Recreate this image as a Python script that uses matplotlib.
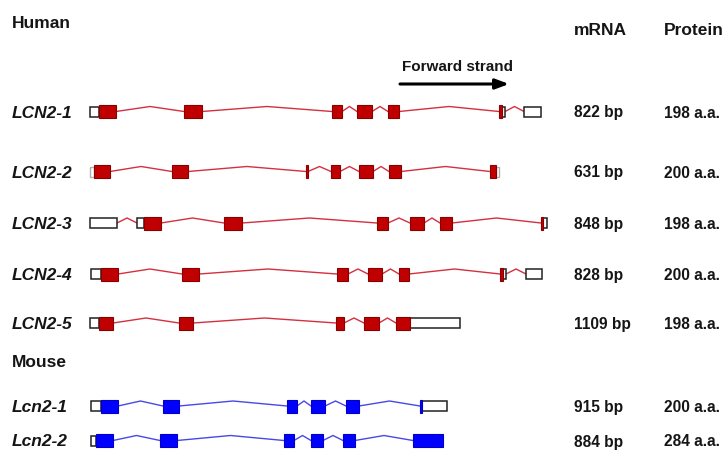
import matplotlib
matplotlib.use("Agg")
import matplotlib.pyplot as plt
from matplotlib.patches import Rectangle

plt.rcParams['font.family'] = ['Liberation Sans', 'DejaVu Sans']

# Transcript models: (start, end, kind) in drawing units along the locus.
# kind: 'c' coding exon, 'u' untranslated region, 'g' faint untranslated region
human_names = ["LCN2-1", "LCN2-2", "LCN2-3", "LCN2-4", "LCN2-5"]
mouse_names = ["Lcn2-1", "Lcn2-2"]

human_1 = [(90, 99, 'u'), (99, 116, 'c'), (184, 202, 'c'), (332, 342, 'c'), (357, 372, 'c'),
           (388, 399, 'c'), (499, 502, 'c'), (502, 505, 'u'), (524, 541, 'u')]
human_2 = [(90, 94, 'g'), (94, 110, 'c'), (172, 188, 'c'), (306, 308, 'c'), (331, 340, 'c'),
           (359, 373, 'c'), (389, 401, 'c'), (490, 496, 'c'), (496, 499, 'g')]
human_3 = [(90, 117, 'u'), (137, 144, 'u'), (144, 161, 'c'), (224, 242, 'c'), (377, 388, 'c'),
           (410, 424, 'c'), (440, 452, 'c'), (541, 543, 'c'), (543, 547, 'u')]
human_4 = [(91, 101, 'u'), (101, 118, 'c'), (182, 199, 'c'), (337, 348, 'c'), (368, 382, 'c'),
           (399, 409, 'c'), (500, 503, 'c'), (503, 506, 'u'), (526, 542, 'u')]
human_5 = [(90, 99, 'u'), (99, 113, 'c'), (179, 193, 'c'), (336, 344, 'c'), (364, 379, 'c'),
           (396, 410, 'c'), (410, 460, 'u')]
mouse_1 = [(91, 101, 'u'), (101, 118, 'c'), (163, 179, 'c'), (287, 297, 'c'), (311, 325, 'c'),
           (346, 359, 'c'), (420, 422, 'c'), (422, 447, 'u')]
mouse_2 = [(91, 96, 'u'), (96, 113, 'c'), (160, 177, 'c'), (284, 294, 'c'), (311, 323, 'c'),
           (343, 355, 'c'), (413, 443, 'c')]

human_models = [human_1, human_2, human_3, human_4, human_5]
mouse_models = [mouse_1, mouse_2]

human_rows = [111.5, 171.5, 223, 274, 323]
mouse_rows = [406, 440.5]

human_mrna = ["822 bp", "631 bp", "848 bp", "828 bp", "1109 bp"]
human_protein = ["198 a.a.", "200 a.a.", "198 a.a.", "200 a.a.", "198 a.a."]
mouse_mrna = ["915 bp", "884 bp"]
mouse_protein = ["200 a.a.", "284 a.a."]

HUMAN_FILL, HUMAN_EDGE, HUMAN_LINE = "#c00000", "#8a0000", "#d43040"
MOUSE_FILL, MOUSE_EDGE, MOUSE_LINE = "#0000ff", "#0000c8", "#4848e8"
TEXT = "#151515"

fig = plt.figure(figsize=(7.26, 4.5), dpi=100)
ax = fig.add_axes([0, 0, 1, 1])
ax.set_xlim(0, 726)
ax.set_ylim(450, 0)
ax.axis('off')

CDS_H = 13
UTR_H = 10
PEAK = 5
BASE = 6.0   # text baseline offset below the row centre


def draw_model(segs, y, fill, edge, line):
    # introns as a shallow chevron between consecutive exons
    for (s0, e0, _), (s1, e1, _) in zip(segs[:-1], segs[1:]):
        if s1 - e0 > 1:
            mid = (e0 + s1) / 2
            ax.plot([e0, mid, s1], [y, y - PEAK, y], color=line, lw=1.0,
                    solid_joinstyle='miter', zorder=1)
    for s, e, kind in segs:
        if kind == 'c':
            ax.add_patch(Rectangle((s, y - CDS_H / 2), e - s, CDS_H, facecolor=fill,
                                   edgecolor=edge, lw=0.8, zorder=3))
        elif kind == 'u':
            ax.add_patch(Rectangle((s, y - UTR_H / 2), e - s, UTR_H, facecolor="white",
                                   edgecolor="#222222", lw=1.1, zorder=2))
        else:
            ax.add_patch(Rectangle((s, y - UTR_H / 2), e - s, UTR_H, facecolor="white",
                                   edgecolor="#b0b0b0", lw=1.0, zorder=2))


def row_text(name, y, m, p):
    ax.text(12, y + BASE, name, fontsize=12.5, fontweight='bold', fontstyle='italic',
            color=TEXT, va='baseline', ha='left')
    ax.text(574, y + BASE, m, fontsize=11.2, fontweight='bold', color=TEXT,
            va='baseline', ha='left')
    ax.text(664, y + BASE, p, fontsize=11.2, fontweight='bold', color=TEXT,
            va='baseline', ha='left')


for name, segs, y, m, p in zip(human_names, human_models, human_rows, human_mrna, human_protein):
    draw_model(segs, y, HUMAN_FILL, HUMAN_EDGE, HUMAN_LINE)
    row_text(name, y, m, p)

for name, segs, y, m, p in zip(mouse_names, mouse_models, mouse_rows, mouse_mrna, mouse_protein):
    draw_model(segs, y, MOUSE_FILL, MOUSE_EDGE, MOUSE_LINE)
    row_text(name, y, m, p)

ax.text(12, 28, "Human", fontsize=12.5, fontweight='bold', color=TEXT, va='baseline', ha='left')
ax.text(12, 367, "Mouse", fontsize=12.5, fontweight='bold', color=TEXT, va='baseline', ha='left')
ax.text(574, 35, "mRNA", fontsize=12.5, fontweight='bold', color=TEXT, va='baseline', ha='left')
ax.text(664, 35, "Protein", fontsize=12.5, fontweight='bold', color=TEXT, va='baseline', ha='left')

ax.text(402, 71, "Forward strand", fontsize=11, fontweight='bold', color=TEXT,
        va='baseline', ha='left')
ax.annotate("", xy=(509, 84), xytext=(400, 84),
            arrowprops=dict(arrowstyle='-|>,head_length=0.8,head_width=0.3',
                            color='black', lw=2.2, shrinkA=0, shrinkB=0))

fig.savefig("out.png", dpi=100, facecolor='white')
